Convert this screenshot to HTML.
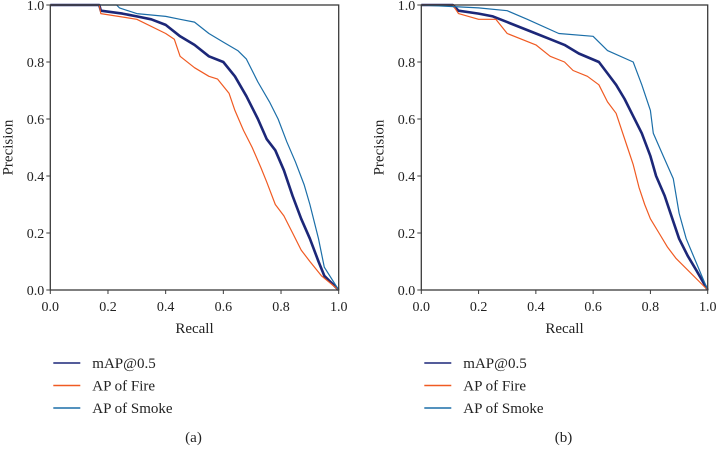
<!DOCTYPE html>
<html><head><meta charset="utf-8"><style>
body{margin:0;background:#fff;}
svg text{font-family:"Liberation Serif","DejaVu Serif",serif;fill:#222;}
</style></head><body>
<svg id="c" width="717" height="447" viewBox="0 0 717 447" xmlns="http://www.w3.org/2000/svg"></svg>
<script>
const ticks=[0,0.2,0.4,0.6,0.8,1.0];
const tickLabels=["0.0","0.2","0.4","0.6","0.8","1.0"];
const seriesNames=["mAP@0.5","AP of Fire","AP of Smoke"];
const aMapR=[0,0.17,0.175,0.25,0.3,0.35,0.4,0.45,0.5,0.55,0.6,0.64,0.68,0.72,0.75,0.78,0.81,0.84,0.87,0.9,0.93,0.95,1];
const aMapP=[1,1,0.98,0.97,0.96,0.95,0.93,0.89,0.86,0.82,0.8,0.75,0.68,0.6,0.53,0.49,0.42,0.33,0.25,0.18,0.1,0.05,0];
const aFireR=[0,0.17,0.175,0.3,0.4,0.43,0.45,0.5,0.55,0.58,0.62,0.64,0.67,0.7,0.73,0.75,0.78,0.81,0.84,0.87,0.9,0.94,1];
const aFireP=[1,1,0.97,0.95,0.9,0.88,0.82,0.78,0.75,0.74,0.69,0.63,0.56,0.5,0.43,0.38,0.3,0.26,0.2,0.14,0.1,0.05,0];
const aSmokeR=[0,0.23,0.24,0.3,0.4,0.45,0.5,0.55,0.6,0.65,0.68,0.72,0.76,0.79,0.82,0.85,0.88,0.9,0.93,0.95,1];
const aSmokeP=[1,1,0.99,0.97,0.96,0.95,0.94,0.9,0.87,0.84,0.81,0.73,0.66,0.6,0.52,0.45,0.37,0.3,0.18,0.08,0];
const bMapR=[0,0.11,0.13,0.2,0.25,0.3,0.4,0.45,0.5,0.55,0.62,0.65,0.68,0.71,0.74,0.77,0.8,0.82,0.85,0.88,0.9,0.93,0.96,1];
const bMapP=[1,1,0.98,0.97,0.96,0.94,0.9,0.88,0.86,0.83,0.8,0.76,0.72,0.67,0.61,0.55,0.47,0.4,0.33,0.24,0.18,0.12,0.07,0];
const bFireR=[0,0.11,0.13,0.2,0.26,0.3,0.4,0.45,0.5,0.53,0.58,0.62,0.65,0.68,0.7,0.72,0.74,0.76,0.78,0.8,0.83,0.86,0.89,1];
const bFireP=[1,1,0.97,0.95,0.95,0.9,0.86,0.82,0.8,0.77,0.75,0.72,0.66,0.62,0.56,0.5,0.44,0.36,0.3,0.25,0.2,0.15,0.11,0];
const bSmokeR=[0,0.2,0.3,0.37,0.48,0.6,0.65,0.74,0.77,0.8,0.81,0.845,0.88,0.9,0.925,1];
const bSmokeP=[1,0.99,0.98,0.95,0.9,0.89,0.84,0.8,0.72,0.63,0.55,0.47,0.39,0.27,0.18,0];
const colors=["#1c2778","#f05a22","#1b6ea8"];
const widths=[2.6,1.2,1.2];
const NS="http://www.w3.org/2000/svg";
const svg=document.getElementById('c');
function mk(t,a,p){const e=document.createElementNS(NS,t);for(const k in a)e.setAttribute(k,a[k]);(p||svg).appendChild(e);return e;}
function panel(id,x0,x1,y0,y1,data,cap){
  const g=mk('g',{});
  
  
  const sx=v=>x0+v*(x1-x0), sy=v=>y1-v*(y1-y0);
  data.forEach((d,i)=>{
    const pts=d[0].map((r,j)=>sx(r).toFixed(1)+','+sy(d[1][j]).toFixed(1)).join(' ');
    const l=mk('polyline',{points:pts,fill:'none',stroke:colors[i],'stroke-width':widths[i],'stroke-linejoin':'round'},g);
    
    
  });
  const fr=mk('rect',{x:x0,y:y0,width:x1-x0,height:y1-y0,fill:'none',stroke:'#3a3a3a','stroke-width':1.3},g);
  
  
  ticks.forEach((t,i)=>{
    mk('line',{x1:sx(t),x2:sx(t),y1:y1,y2:y1+4,stroke:'#3a3a3a'},g);
    mk('line',{x1:x0-4,x2:x0,y1:sy(t),y2:sy(t),stroke:'#3a3a3a'},g);
    const tx=mk('text',{x:sx(t),y:y1+21,'font-size':14,'text-anchor':'middle'},g);tx.textContent=tickLabels[i];
    
    
    const ty=mk('text',{x:x0-6,y:sy(t)+5,'font-size':14,'text-anchor':'end'},g);ty.textContent=tickLabels[i];
    
    
  });
  const xt=mk('text',{x:(x0+x1)/2,y:y1+43,'font-size':15,'text-anchor':'middle'},g);xt.textContent='Recall';
  
  
  const yt=mk('text',{transform:`translate(${x0-38},${(y0+y1)/2}) rotate(-90)`,'font-size':15,'text-anchor':'middle'},g);yt.textContent='Precision';
  
  
  seriesNames.forEach((n,i)=>{
    const yy=363+i*22.5;
    mk('line',{x1:x0+3,x2:x0+30,y1:yy,y2:yy,stroke:colors[i],'stroke-width':1.5},g);
    const lt=mk('text',{x:x0+42,y:yy+5,'font-size':15},g);lt.textContent=n;
    
    
  });
  const c=mk('text',{x:(x0+x1)/2-1,y:442,'font-size':15,'text-anchor':'middle'},g);c.textContent=cap;
  
  
}
panel('a',50.3,338.7,5,290,[[aMapR,aMapP],[aFireR,aFireP],[aSmokeR,aSmokeP]],'(a)');
panel('b',421.3,707.7,5,290,[[bMapR,bMapP],[bFireR,bFireP],[bSmokeR,bSmokeP]],'(b)');
</script>
</body></html>
